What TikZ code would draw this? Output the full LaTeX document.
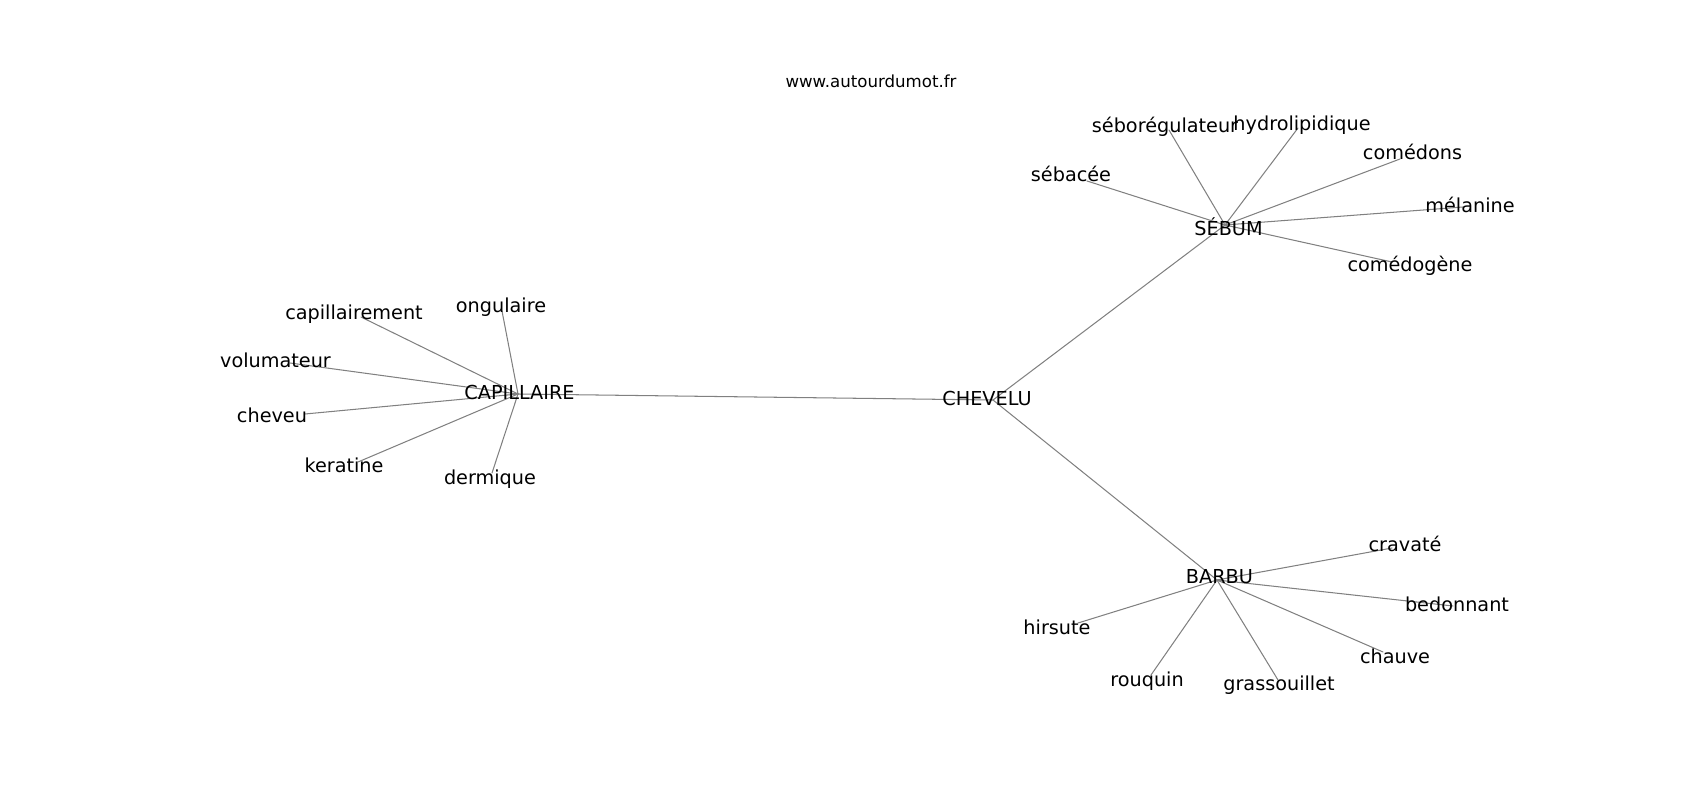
\documentclass[tikz,border=0pt]{standalone}
\usepackage{fontspec}
\setmainfont{DejaVu Sans}
\usepackage{tikz}

\definecolor{edgegray}{HTML}{808080}

\tikzset{
  word/.style={anchor=base, inner sep=0pt, font=\fontsize{13.9}{16}\selectfont},
  site/.style={anchor=base, inner sep=0pt, font=\fontsize{12}{14}\selectfont},
  link/.style={draw=edgegray, line width=0.75pt}
}

\begin{document}
\begin{tikzpicture}[x=0.01in,y=-0.01in,line cap=round]
            \useasboundingbox (0,0) rectangle (1700,800);

            % graph vertices
            \coordinate (v-chevelu) at (993,400);
            \coordinate (v-capillaire) at (518,394);
            \coordinate (v-sebum) at (1225,225);
            \coordinate (v-barbu) at (1217,580);

            \coordinate (v-sebacee) at (1087,181);
            \coordinate (v-seboregulateur) at (1169,130);
            \coordinate (v-hydrolipidique) at (1298,128);
            \coordinate (v-comedons) at (1400,159);
            \coordinate (v-melanine) at (1463,207);
            \coordinate (v-comedogene) at (1392,262);

            \coordinate (v-capillairement) at (361,317);
            \coordinate (v-ongulaire) at (502,311);
            \coordinate (v-volumateur) at (290,363);
            \coordinate (v-cheveu) at (305,414);
            \coordinate (v-keratine) at (358,462);
            \coordinate (v-dermique) at (492,473);

            \coordinate (v-cravate) at (1392,548);
            \coordinate (v-bedonnant) at (1453,606);
            \coordinate (v-chauve) at (1383,652);
            \coordinate (v-hirsute) at (1078,623);
            \coordinate (v-rouquin) at (1151,675);
            \coordinate (v-grassouillet) at (1278,680);

            % edges of the centre
            \draw[link] (v-chevelu) -- (v-capillaire);
            \draw[link] (v-chevelu) -- (v-sebum);
            \draw[link] (v-chevelu) -- (v-barbu);

            % edges around SEBUM
            \draw[link] (v-sebum) -- (v-sebacee);
            \draw[link] (v-sebum) -- (v-seboregulateur);
            \draw[link] (v-sebum) -- (v-hydrolipidique);
            \draw[link] (v-sebum) -- (v-comedons);
            \draw[link] (v-sebum) -- (v-melanine);
            \draw[link] (v-sebum) -- (v-comedogene);

            % edges around CAPILLAIRE
            \draw[link] (v-capillaire) -- (v-capillairement);
            \draw[link] (v-capillaire) -- (v-ongulaire);
            \draw[link] (v-capillaire) -- (v-volumateur);
            \draw[link] (v-capillaire) -- (v-cheveu);
            \draw[link] (v-capillaire) -- (v-keratine);
            \draw[link] (v-capillaire) -- (v-dermique);

            % edges around BARBU
            \draw[link] (v-barbu) -- (v-cravate);
            \draw[link] (v-barbu) -- (v-bedonnant);
            \draw[link] (v-barbu) -- (v-chauve);
            \draw[link] (v-barbu) -- (v-hirsute);
            \draw[link] (v-barbu) -- (v-rouquin);
            \draw[link] (v-barbu) -- (v-grassouillet);

            % labels
            \node[site] (site) at (871,88) {www.autourdumot.fr};

            \node[word] (chevelu) at (987,406) {CHEVELU};
            \node[word] (capillaire) at (519.5,399.5) {CAPILLAIRE};
            \node[word] (sebum) at (1228.5,236) {SÉBUM};
            \node[word] (barbu) at (1219.5,583.5) {BARBU};

            \node[word] (sebacee) at (1071,182) {sébacée};
            \node[word] (seboregulateur) at (1165,133) {séborégulateur};
            \node[word] (hydrolipidique) at (1302,131) {hydrolipidique};
            \node[word] (comedons) at (1412.5,160) {comédons};
            \node[word] (melanine) at (1470,213) {mélanine};
            \node[word] (comedogene) at (1410,272) {comédogène};

            \node[word] (capillairement) at (354,319.5) {capillairement};
            \node[word] (ongulaire) at (501,312.5) {ongulaire};
            \node[word] (volumateur) at (275.5,367.5) {volumateur};
            \node[word] (cheveu) at (272,423) {cheveu};
            \node[word] (keratine) at (344,473) {keratine};
            \node[word] (dermique) at (490,484.5) {dermique};

            \node[word] (cravate) at (1405,551.5) {cravaté};
            \node[word] (bedonnant) at (1457,611.5) {bedonnant};
            \node[word] (chauve) at (1395,663) {chauve};
            \node[word] (hirsute) at (1057,634.5) {hirsute};
            \node[word] (rouquin) at (1147,686) {rouquin};
            \node[word] (grassouillet) at (1279,690.5) {grassouillet};
        \end{tikzpicture}
\end{document}
